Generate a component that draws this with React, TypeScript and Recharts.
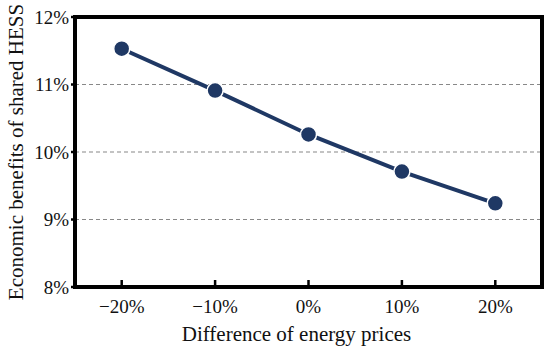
import * as React from "react";
import { CartesianGrid, Line, LineChart, ReferenceArea, XAxis, YAxis } from "recharts";

const priceDiffs = [-20, -10, 0, 10, 20];
const benefits = [11.53, 10.91, 10.26, 9.71, 9.24];
const xTicks = [-20, -10, 0, 10, 20];
const yTicks = [8, 9, 10, 11, 12];
const rightTicks = [1, 2, 3];
const xDomain = [-25, 25];
const yDomain = [8, 12];

const data = priceDiffs.map((x, i) => ({ x, y: benefits[i] }));

const FONT = '"Liberation Serif", "Times New Roman", serif';
const NAVY = "#1f3864";
const TICK_FS = 19;
const markStyle = { stroke: "#000", strokeWidth: 2.5 };

const fmtPct = (v: number) => (v < 0 ? `\u2212${Math.abs(v)}%` : `${v}%`);

// tick renderers draw their own tick mark so direction / weight can be controlled
const BottomTick = (props: any) => {
  const { x, y, payload } = props;
  return (
    <g>
      <line x1={x} x2={x} y1={y} y2={y - 7} style={markStyle} />
      <text x={x} y={y + 26} textAnchor="middle" style={{ fill: "#111", fontSize: TICK_FS, fontFamily: FONT }}>
        {fmtPct(payload.value)}
      </text>
    </g>
  );
};

const LeftTick = (props: any) => {
  const { x, y, payload } = props;
  return (
    <g>
      <line x1={x - 4} x2={x} y1={y} y2={y} style={markStyle} />
      <text x={x - 6} y={y + 6.5} textAnchor="end" style={{ fill: "#111", fontSize: TICK_FS, fontFamily: FONT }}>
        {fmtPct(payload.value)}
      </text>
    </g>
  );
};

const RightTick = (props: any) => {
  const { x, y } = props;
  return <line x1={x} x2={x - 7} y1={y} y2={y} style={markStyle} />;
};

export default function App() {
  return (
    <div style={{ position: "absolute", left: 0, top: 0, background: "#fff" }}>
      <LineChart width={550} height={348} data={data} margin={{ top: 17, right: 7, bottom: 0, left: 0 }}>
        <CartesianGrid stroke="#888" strokeDasharray="4 3" vertical={false} strokeWidth={1.2} />
        <XAxis
          dataKey="x"
          type="number"
          domain={xDomain}
          ticks={xTicks}
          height={61}
          axisLine={false}
          tickLine={false}
          tickSize={0}
          tickMargin={0}
          tick={BottomTick}
          label={{
            value: "Difference of energy prices",
            position: "insideBottom",
            offset: 7,
            dx: -12,
            style: { fill: "#111", fontSize: 21, fontFamily: FONT },
          }}
        />
        <YAxis
          domain={yDomain}
          ticks={yTicks}
          width={75}
          axisLine={false}
          tickLine={false}
          tickSize={0}
          tickMargin={0}
          tick={LeftTick}
          label={{
            value: "Economic benefits of shared HESS",
            angle: -90,
            position: "insideLeft",
            offset: 16,
            style: { textAnchor: "middle", fill: "#111", fontSize: 21, fontFamily: FONT },
          }}
        />
        <YAxis
          yAxisId="r"
          orientation="right"
          domain={[0, 3.5]}
          reversed
          ticks={rightTicks}
          width={1}
          axisLine={false}
          tickLine={false}
          tickSize={0}
          tickMargin={0}
          tick={RightTick}
        />
        <Line
          dataKey="y"
          stroke={NAVY}
          strokeWidth={4}
          dot={{ r: 8, fill: NAVY, stroke: "#fff", strokeWidth: 1.5 }}
          isAnimationActive={false}
        />
        <ReferenceArea
          x1={xDomain[0]}
          x2={xDomain[1]}
          y1={yDomain[0]}
          y2={yDomain[1]}
          fill="none"
          fillOpacity={0}
          stroke="#000"
          strokeWidth={4}
          strokeOpacity={1}
          ifOverflow="visible"
        />
      </LineChart>
    </div>
  );
}
